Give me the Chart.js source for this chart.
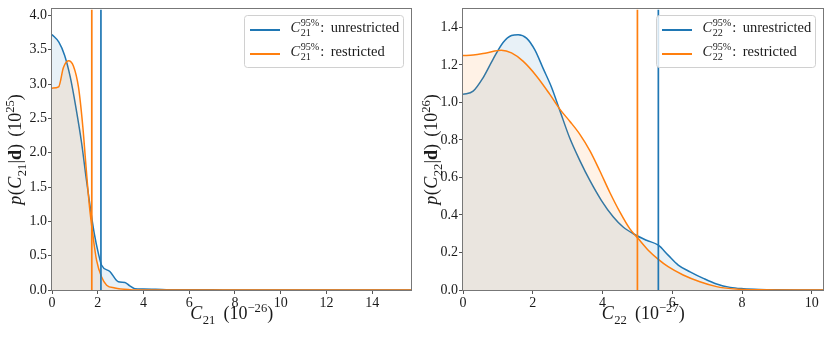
<!DOCTYPE html>
<html>
<head>
<meta charset="utf-8">
<script src="https://cdn.jsdelivr.net/npm/chart.js@4/dist/chart.umd.min.js"></script>
<style>
	html, body { margin: 0; padding: 0; background: #fff; }
	#wrap { position: relative; width: 830px; height: 338px; }
	.panel { position: absolute; top: 0; width: 415px; height: 338px; }
</style>
</head>
<body>
<div id="wrap">
	<div class="panel" style="left:0"><canvas id="left" width="415" height="338"></canvas></div>
	<div class="panel" style="left:415px"><canvas id="right" width="415" height="338"></canvas></div>
</div>
<script>
// left panel: C21 posterior
var c21X_unres = [0, 0.3, 0.55, 0.8, 1.05, 1.3, 1.49, 1.67, 1.85, 2.03, 2.17, 2.53, 2.9, 3.19, 3.4, 3.62, 4.0, 5.0, 6.0, 7.0, 8.0, 15.7];
var c21Y_unres = [3.72, 3.61, 3.42, 3.1, 2.65, 2.13, 1.64, 1.21, 0.82, 0.53, 0.36, 0.27, 0.12, 0.11, 0.06, 0.02, 0.015, 0.005, 0.002, 0.003, 0.0, 0.0];
var c21X_res = [0, 0.29, 0.5, 0.72, 0.94, 1.16, 1.35, 1.49, 1.64, 1.78, 1.95, 2.17, 2.39, 2.75, 3.4, 4.0, 15.7];
var c21Y_res = [2.94, 2.96, 3.24, 3.34, 3.26, 2.95, 2.37, 1.79, 1.21, 0.82, 0.43, 0.19, 0.07, 0.03, 0.005, 0, 0];
var c21Limit_unres = 2.14;
var c21Limit_res = 1.74;
var c21XMax = 15.7, c21YMax = 4.087;

// right panel: C22 posterior
var c22X_unres = [0, 0.29, 0.57, 0.86, 1.15, 1.39, 1.58, 1.82, 2.06, 2.3, 2.54, 2.78, 3.06, 3.35, 3.64, 3.97, 4.31, 4.59, 4.88, 5.26, 5.6, 5.88, 6.17, 6.51, 6.89, 7.27, 7.66, 8.04, 8.5, 9.0, 9.6, 10.32];
var c22Y_unres = [1.043, 1.06, 1.13, 1.23, 1.32, 1.357, 1.361, 1.343, 1.28, 1.18, 1.08, 0.955, 0.81, 0.69, 0.583, 0.477, 0.389, 0.336, 0.3, 0.265, 0.239, 0.186, 0.133, 0.097, 0.062, 0.032, 0.014, 0.007, 0.003, 0.001, 0, 0];
var c22X_res = [0, 0.29, 0.67, 1.1, 1.39, 1.72, 2.11, 2.49, 2.78, 3.06, 3.35, 3.64, 3.92, 4.21, 4.5, 4.78, 5.02, 5.31, 5.6, 5.88, 6.31, 6.79, 7.27, 7.75, 8.5, 9.6, 10.32];
var c22Y_res = [1.25, 1.253, 1.264, 1.278, 1.264, 1.22, 1.14, 1.043, 0.963, 0.9, 0.83, 0.742, 0.636, 0.52, 0.415, 0.327, 0.274, 0.212, 0.163, 0.124, 0.08, 0.044, 0.018, 0.006, 0.001, 0, 0];
var c22Limit_unres = 5.6;
var c22Limit_res = 5.0;
var c22XMax = 10.32, c22YMax = 1.496;

var BLUE = '#1f77b4', ORANGE = '#ff7f0e';
var FONT = '"Liberation Serif", "DejaVu Serif", serif';

var font = function(size, italic, bold){
	return (italic ? 'italic ' : '') + (bold ? 'bold ' : '') + size + 'px ' + FONT;
};

// rich text: {t, i, b, sup, sub} or stacked {hi, lo}; {gap} adds space
var segWidth = function(ctx, s, size){
	if(s.gap !== undefined) return s.gap * size;
	if(s.hi !== undefined){
		ctx.font = font(size * 0.7);
		return Math.max(ctx.measureText(s.hi).width, ctx.measureText(s.lo).width) + 1;
	}
	ctx.font = font((s.sup || s.sub) ? size * 0.7 : size, s.i, s.b);
	return ctx.measureText(s.t).width + (s.i ? 1 : 0);
};

var drawRich = function(ctx, segs, x, y, size, align){
	var total = 0;
	for (var i = 0; i < segs.length; i++) total += segWidth(ctx, segs[i], size);
	var cx = align == 'center' ? x - total / 2 : x;
	ctx.textBaseline = 'alphabetic';
	ctx.textAlign = 'left';
	ctx.fillStyle = '#1a1a1a';
	for (var i = 0; i < segs.length; i++) {
		var s = segs[i];
		var w = segWidth(ctx, s, size);
		if(s.gap !== undefined){
			// nothing to draw
		} else if(s.hi !== undefined){
			ctx.font = font(size * 0.7);
			ctx.fillText(s.hi, cx, y - size * 0.4);
			ctx.fillText(s.lo, cx, y + size * 0.26);
		} else {
			ctx.font = font((s.sup || s.sub) ? size * 0.7 : size, s.i, s.b);
			var dy = s.sup ? -size * 0.4 : (s.sub ? size * 0.26 : 0);
			ctx.fillText(s.t, cx + (s.i && !s.sub ? 0.5 : 0), y + dy);
		}
		cx += w;
	}
};

var decor = {
	id: 'decor',
	afterDatasetsDraw: function(chart){
		var a = chart.chartArea, ctx = chart.ctx;
		ctx.save();
		ctx.strokeStyle = '#777';
		ctx.lineWidth = 1;
		ctx.strokeRect(Math.round(a.left) - 0.5, Math.round(a.top) - 0.5, Math.round(a.right - a.left) + 1, Math.round(a.bottom - a.top) + 1);
		ctx.restore();
	},
	afterDraw: function(chart, args, opts){
		var a = chart.chartArea, ctx = chart.ctx;
		ctx.save();
		drawRich(ctx, opts.xTitle, (a.left + a.right) / 2, 319, 18, 'center');
		ctx.translate(opts.yTitleX, (a.top + a.bottom) / 2);
		ctx.rotate(-Math.PI / 2);
		drawRich(ctx, opts.yTitle, 0, 0, 18, 'center');
		ctx.restore();

		// legend box
		var L = opts.legend;
		ctx.save();
		ctx.fillStyle = 'rgba(255,255,255,0.8)';
		ctx.strokeStyle = '#d0d0d0';
		ctx.lineWidth = 1;
		ctx.beginPath();
		ctx.roundRect(L.x + 0.5, L.y + 0.5, L.w, L.h, 3);
		ctx.fill();
		ctx.stroke();
		for (var i = 0; i < L.items.length; i++) {
			var it = L.items[i];
			var ry = L.y + 15 + i * 24;
			ctx.strokeStyle = it.color;
			ctx.lineWidth = 2;
			ctx.beginPath();
			ctx.moveTo(L.x + 6, ry);
			ctx.lineTo(L.x + 36, ry);
			ctx.stroke();
			drawRich(ctx, it.label, L.x + 46, ry + 2, 14.5, 'left');
		}
		ctx.restore();
	}
};

var pts = function(xs, ys){
	var out = [];
	for (var i = 0; i < xs.length; i++) out.push({x: xs[i], y: ys[i]});
	return out;
};

var curve = function(xs, ys, color, fillColor){
	return {
		data: pts(xs, ys),
		borderColor: color,
		backgroundColor: fillColor,
		borderWidth: 1.5,
		pointRadius: 0,
		fill: 'origin',
		cubicInterpolationMode: 'monotone'
	};
};

var vline = function(x, ymax, color){
	return {
		data: [{x: x, y: 0}, {x: x, y: ymax}],
		borderColor: color,
		borderWidth: 1.7,
		pointRadius: 0,
		fill: false
	};
};

var sub = function(idx){ return [{t: 'C', i: true}, {t: idx, sub: true}]; };
var legendLabel = function(idx, word){
	return [{t: 'C', i: true}, {hi: '95%', lo: idx}, {t: ':'}, {gap: 0.45}, {t: word}];
};

var makeChart = function(id, cfg){
	return new Chart(document.getElementById(id), {
		type: 'line',
		data: {
			datasets: [
				vline(cfg.limRes, cfg.yMax, ORANGE),
				vline(cfg.limUnres, cfg.yMax, BLUE),
				curve(cfg.xRes, cfg.yRes, ORANGE, 'rgba(255,127,14,0.1)'),
				curve(cfg.xUnres, cfg.yUnres, BLUE, 'rgba(31,119,180,0.1)')
			]
		},
		options: {
			responsive: false,
			animation: false,
			devicePixelRatio: 1,
			events: [],
			layout: { padding: { left: 0, right: cfg.padRight, top: 8, bottom: 0 } },
			plugins: {
				legend: { display: false },
				tooltip: { enabled: false },
				decor: {
					xTitle: cfg.xTitle,
					yTitle: cfg.yTitle,
					yTitleX: cfg.yTitleX,
					legend: cfg.legend
				}
			},
			scales: {
				x: {
					type: 'linear',
					min: 0,
					max: cfg.xMax,
					afterFit: function(s){ s.height = 48; },
					grid: { drawOnChartArea: false, tickLength: 4, color: '#555' },
					border: { display: false },
					ticks: {
						stepSize: 2,
						includeBounds: false,
						padding: 1,
						maxRotation: 0,
						color: '#1a1a1a',
						font: { family: FONT, size: 14 },
						callback: function(v){ return String(v); }
					}
				},
				y: {
					type: 'linear',
					min: 0,
					max: cfg.yMax,
					afterFit: function(s){ s.width = cfg.yWidth; },
					grid: { drawOnChartArea: false, tickLength: 4, color: '#555' },
					border: { display: false },
					ticks: {
						stepSize: cfg.yStep,
						includeBounds: false,
						padding: 1,
						color: '#1a1a1a',
						font: { family: FONT, size: 14 },
						callback: function(v){ return v.toFixed(1); }
					}
				}
			}
		},
		plugins: [decor]
	});
};

makeChart('left', {
	xUnres: c21X_unres, yUnres: c21Y_unres, xRes: c21X_res, yRes: c21Y_res,
	limUnres: c21Limit_unres, limRes: c21Limit_res,
	xMax: c21XMax, yMax: c21YMax, yStep: 0.5,
	yWidth: 52, padRight: 4, yTitleX: 21,
	xTitle: sub('21').concat([{gap: 0.45}, {t: '(10'}, {t: '\u221226', sup: true}, {t: ')'}]),
	yTitle: [{t: 'p', i: true}, {t: '('}].concat(sub('21')).concat([{t: '|'}, {t: 'd', b: true}, {t: ')'}, {gap: 0.4}, {t: '(10'}, {t: '25', sup: true}, {t: ')'}]),
	legend: {
		x: 244, y: 15, w: 159, h: 52,
		items: [
			{color: BLUE, label: legendLabel('21', 'unrestricted')},
			{color: ORANGE, label: legendLabel('21', 'restricted')}
		]
	}
});

makeChart('right', {
	xUnres: c22X_unres, yUnres: c22Y_unres, xRes: c22X_res, yRes: c22Y_res,
	limUnres: c22Limit_unres, limRes: c22Limit_res,
	xMax: c22XMax, yMax: c22YMax, yStep: 0.2,
	yWidth: 48, padRight: 7, yTitleX: 22,
	xTitle: sub('22').concat([{gap: 0.45}, {t: '(10'}, {t: '\u221227', sup: true}, {t: ')'}]),
	yTitle: [{t: 'p', i: true}, {t: '('}].concat(sub('22')).concat([{t: '|'}, {t: 'd', b: true}, {t: ')'}, {gap: 0.4}, {t: '(10'}, {t: '26', sup: true}, {t: ')'}]),
	legend: {
		x: 241, y: 15, w: 159, h: 52,
		items: [
			{color: BLUE, label: legendLabel('22', 'unrestricted')},
			{color: ORANGE, label: legendLabel('22', 'restricted')}
		]
	}
});
</script>
</body>
</html>
